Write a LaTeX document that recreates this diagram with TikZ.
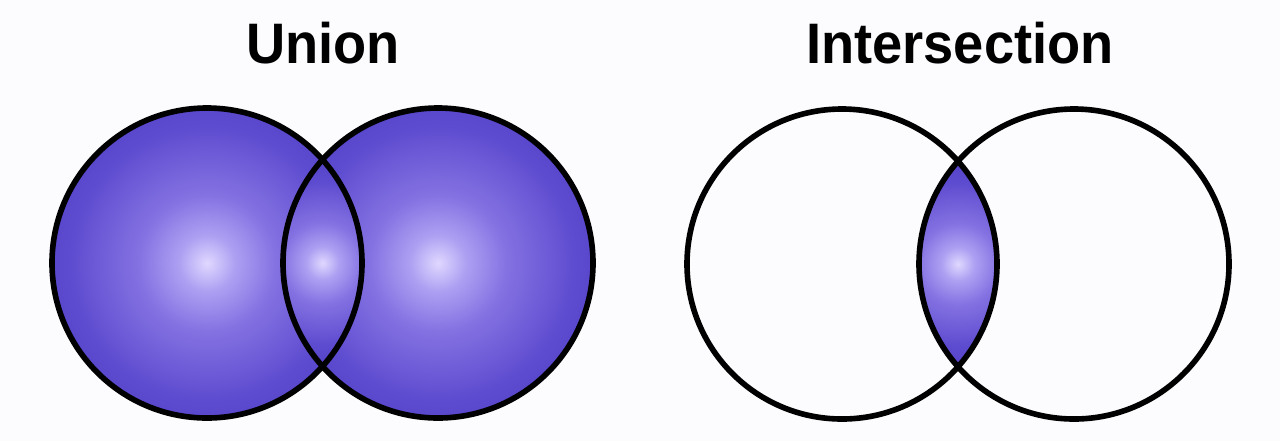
\documentclass[tikz,border=0pt]{standalone}
\usepackage{fontspec}
\newfontfamily\titlefont[FakeStretch=0.95]{Liberation Sans}
\usetikzlibrary{positioning}

\definecolor{glowc}{HTML}{E0D8FF}
\definecolor{glowb}{HTML}{ADA0F2}
\definecolor{glowm}{HTML}{8472E2}
\definecolor{glowd}{HTML}{5E4CD0}
\definecolor{glowe}{HTML}{4634BE}
\pgfdeclareradialshading{vennglow}{\pgfpoint{0bp}{0bp}}{color(0bp)=(glowc); color(4.5bp)=(glowb); color(11bp)=(glowm); color(22bp)=(glowd); color(35bp)=(glowe); color(50bp)=(glowe)}
\pgfdeclareradialshading{lensglow}{\pgfpoint{0bp}{0bp}}{color(0bp)=(glowc); color(3.2bp)=(glowb); color(7.8bp)=(glowm); color(15.6bp)=(glowd); color(24.8bp)=(glowe); color(50bp)=(glowe)}

\begin{document}
\begin{tikzpicture}[x=0.02cm,y=0.02cm]
\tikzstyle{title}=[font=\titlefont\bfseries\fontsize{32.5}{36}\selectfont, inner sep=0pt, anchor=base]
\tikzstyle{rim}=[line width=3.2pt, black]
\useasboundingbox (0,0) rectangle (1280,-441);
\fill [white!99!blue] (0,0) rectangle (1280,-441);
% centres
\coordinate (uA) at (207,-263);
\coordinate (uB) at (438,-263);
\coordinate (uM) at (322.5,-263);
\coordinate (iA) at (842,-264);
\coordinate (iB) at (1074,-264);
\coordinate (iM) at (958,-264);
% titles
\node [title] (union) at (323,-63) {Union};
\node [title] (inter) at (960,-63) {Intersection};
% union
\shade [shading=vennglow] (uA) circle (155);
\shade [shading=vennglow] (uB) circle (155);
\begin{scope}
\clip (uA) circle (155);
\clip (uB) circle (155);
\shade [shading=lensglow] (uM) circle (130);
\end{scope}
\draw [rim] (uA) circle (155);
\draw [rim] (uB) circle (155);
% intersection
\begin{scope}
\clip (iA) circle (155);
\clip (iB) circle (155);
\shade [shading=lensglow] (iM) circle (130);
\end{scope}
\draw [rim] (iA) circle (155);
\draw [rim] (iB) circle (155);
\end{tikzpicture}
\end{document}
